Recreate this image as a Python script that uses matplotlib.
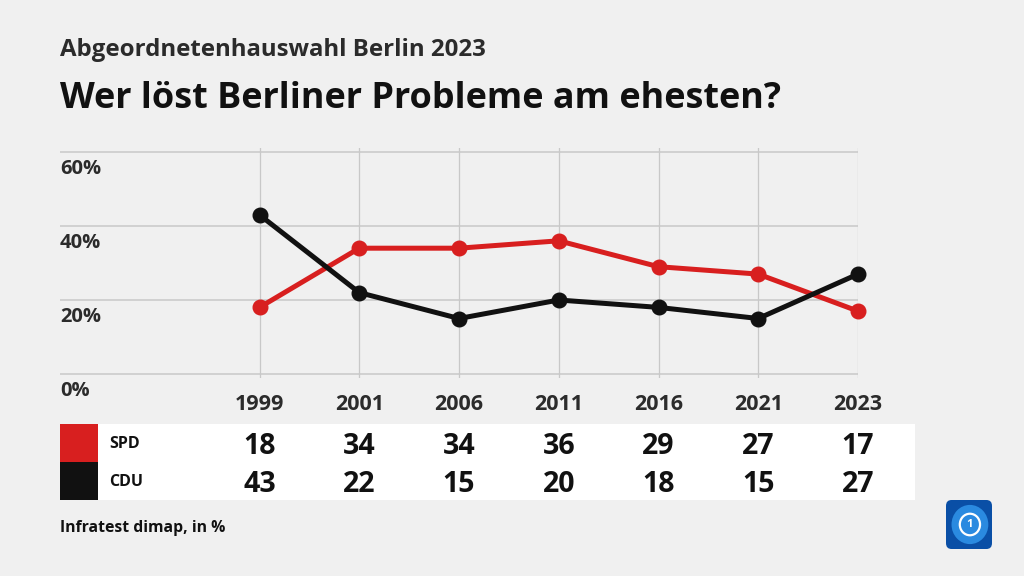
import numpy as np
import matplotlib
matplotlib.use('Agg')
import matplotlib.pyplot as plt
from matplotlib import transforms
from matplotlib.patches import Rectangle, FancyBboxPatch, Circle

years = ['1999', '2001', '2006', '2011', '2016', '2021', '2023']
spd = [18, 34, 34, 36, 29, 27, 17]
cdu = [43, 22, 15, 20, 18, 15, 27]
parties = ['SPD', 'CDU']
yticks = [0, 20, 40, 60]

bg = '#f0f0f0'
red = '#d81f1f'
black = '#111111'
txt = '#2b2b2b'
plt.rcParams['font.family'] = ['Open Sans', 'DejaVu Sans']

W, H = 1024, 576
fig = plt.figure(figsize=(W / 100, H / 100), dpi=100, facecolor=bg)

def fx(px):
    return px / W

def fy(py):
    return 1 - py / H

# axes: x from 60 to 858 px, y from 148 to 378 px
ax = fig.add_axes([fx(60), fy(378), fx(858) - fx(60), fy(148) - fy(378)])
ax.set_zorder(2)
ax.set_facecolor(bg)
ax.set_xlim(-2, 6)
ax.set_ylim(-1.08, 61.08)
for s in ax.spines.values():
    s.set_visible(False)
ax.set_xticks([])
ax.set_yticks([])

x = np.arange(len(years))
for v in yticks:
    ax.plot([-2, 6], [v, v], color='#c8c8c8', lw=1.1, zorder=1)
for xi in x:
    ax.plot([xi, xi], [-1.08, 61.08], color='#c8c8c8', lw=0.9, zorder=1)

ax.plot(x, spd, color=red, lw=3.6, marker='o', ms=10.5, zorder=3, clip_on=False)
ax.plot(x, cdu, color=black, lw=3.6, marker='o', ms=10.5, zorder=4, clip_on=False)

for v in yticks:
    ax.annotate(f'{v}%', (-2, v), xytext=(0, -12), textcoords='offset points',
                ha='left', va='center', fontsize=14.5, fontweight='bold', color=txt)

bt = transforms.blended_transform_factory(ax.transData, fig.transFigure)
for xi, yr in zip(x, years):
    ax.text(xi, fy(405), yr, transform=bt, ha='center', va='center',
            fontsize=15.5, fontweight='bold', color=txt, clip_on=False)

# table
fig.patches.append(Rectangle((fx(60), fy(500)), fx(915) - fx(60), fy(424) - fy(500),
                             transform=fig.transFigure, facecolor='white', edgecolor='none'))
fig.patches.append(Rectangle((fx(60), fy(462)), fx(98) - fx(60), fy(424) - fy(462),
                             transform=fig.transFigure, facecolor=red, edgecolor='none'))
fig.patches.append(Rectangle((fx(60), fy(500)), fx(98) - fx(60), fy(462) - fy(500),
                             transform=fig.transFigure, facecolor=black, edgecolor='none'))
rows_y = [444, 482]
for name, vals, ry in zip(parties, [spd, cdu], rows_y):
    fig.text(fx(109), fy(ry), name, ha='left', va='center', fontsize=11.5,
             fontweight='bold', color=black)
    for xi, v in zip(x, vals):
        ax.text(xi, fy(ry + 2.5), str(v), transform=bt, ha='center', va='center',
                fontsize=20.5, fontweight='bold', color=black, clip_on=False)

# titles
fig.text(fx(60), fy(50), 'Abgeordnetenhauswahl Berlin 2023', ha='left', va='center',
         fontsize=17.3, fontweight='bold', color=txt)
fig.text(fx(60), fy(99), 'Wer löst Berliner Probleme am ehesten?', ha='left', va='center',
         fontsize=25.9, fontweight='bold', color=black)
fig.text(fx(60), fy(528), 'Infratest dimap, in %', ha='left', va='center',
         fontsize=11.3, fontweight='bold', color=black)

# logo
lax = fig.add_axes([fx(946), fy(549), fx(992) - fx(946), fy(500) - fy(549)])
lax.set_zorder(3)
lax.set_xlim(0, 1)
lax.set_ylim(0, 1)
lax.axis('off')
lax.add_patch(FancyBboxPatch((0, 0), 1, 1, boxstyle='round,pad=0,rounding_size=0.12',
                             facecolor='#0a4fa6', edgecolor='none'))
lax.add_patch(Circle((0.52, 0.5), 0.4, facecolor='#2a8ae0', edgecolor='none'))
lax.add_patch(Circle((0.52, 0.5), 0.22, facecolor='none', edgecolor='white', lw=1.6))
lax.text(0.52, 0.5, '1', ha='center', va='center', fontsize=8, fontweight='bold', color='white')

fig.savefig('out.png', dpi=100, facecolor=bg)
